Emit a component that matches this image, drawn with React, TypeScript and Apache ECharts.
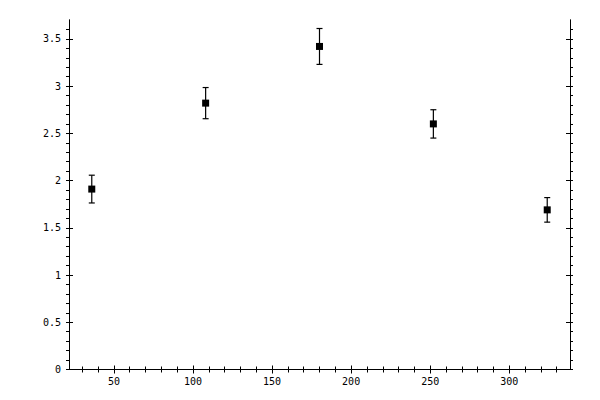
import { useEffect, useRef } from 'react';
import * as echarts from 'echarts';

// measured points
const xValues = [36, 108, 180, 252, 324];
const yValues = [1.91, 2.82, 3.42, 2.6, 1.69];
const yErrors = [0.147, 0.165, 0.19, 0.15, 0.13];

// axis ticks
const xMajor = [50, 100, 150, 200, 250, 300];
const xMinor = [30, 40, 60, 70, 80, 90, 110, 120, 130, 140, 160, 170, 180, 190, 210, 220, 230, 240, 260, 270, 280, 290, 310, 320, 330];
const yMajor = [0, 0.5, 1, 1.5, 2, 2.5, 3, 3.5];
const yMinor = [0.1, 0.2, 0.3, 0.4, 0.6, 0.7, 0.8, 0.9, 1.1, 1.2, 1.3, 1.4, 1.6, 1.7, 1.8, 1.9, 2.1, 2.2, 2.3, 2.4, 2.6, 2.7, 2.8, 2.9, 3.1, 3.2, 3.3, 3.4, 3.6];

const X_MIN = 21.6;
const X_MAX = 338.4;
const Y_MIN = 0;
const Y_MAX = 3.7;

const FONT = 'DejaVu Sans Mono';

const App = () => {
  const chartRef = useRef<HTMLDivElement>(null);

  useEffect(() => {
    if (!chartRef.current) return;
    const chart = echarts.init(chartRef.current, null, { renderer: 'svg' });

    const line = { show: true, lineStyle: { color: '#000', width: 1 } };
    const allX = [...xMajor, ...xMinor];
    const allY = [...yMajor, ...yMinor];

    // builds one axis layer: outside ticks (major + minor) or inside ticks (major only)
    const xAxis = (position: 'top' | 'bottom', inside: boolean, labels: boolean) => ({
      type: 'value',
      position,
      min: X_MIN,
      max: X_MAX,
      axisLine: line,
      splitLine: { show: false },
      axisTick: {
        show: true,
        inside,
        length: inside ? 4 : 3,
        customValues: inside ? xMajor : allX,
        lineStyle: { color: '#000', width: 1 }
      },
      axisLabel: labels
        ? { show: true, customValues: xMajor, color: '#000', fontFamily: FONT, fontSize: 10, margin: 7 }
        : { show: false }
    });

    const yAxis = (position: 'left' | 'right', inside: boolean, labels: boolean) => ({
      type: 'value',
      position,
      min: Y_MIN,
      max: Y_MAX,
      axisLine: line,
      splitLine: { show: false },
      axisTick: {
        show: true,
        inside,
        length: inside ? 4 : 3,
        customValues: inside ? yMajor : allY,
        lineStyle: { color: '#000', width: 1 }
      },
      axisLabel: labels
        ? { show: true, customValues: yMajor, color: '#000', fontFamily: FONT, fontSize: 10, margin: 8 }
        : { show: false }
    });

    const points = xValues.map((x, i) => [x, yValues[i]]);
    const bars = xValues.map((x, i) => [x, yValues[i] - yErrors[i], yValues[i] + yErrors[i]]);

    chart.setOption({
      animation: false,
      backgroundColor: '#fff',
      grid: { left: 69, right: 30, top: 20, bottom: 30.5 },
      xAxis: [
        xAxis('bottom', false, true),
        xAxis('bottom', true, false),
        xAxis('top', false, false),
        xAxis('top', true, false)
      ],
      yAxis: [
        yAxis('left', false, true),
        yAxis('left', true, false),
        yAxis('right', false, false),
        yAxis('right', true, false)
      ],
      series: [
        {
          type: 'custom',
          xAxisIndex: 0,
          yAxisIndex: 0,
          data: bars,
          renderItem: (params: any, api: any) => {
            const lo = api.coord([api.value(0), api.value(1)]);
            const hi = api.coord([api.value(0), api.value(2)]);
            const cap = 3;
            const style = { stroke: '#000', lineWidth: 1.2 };
            return {
              type: 'group',
              children: [
                { type: 'line', shape: { x1: lo[0], y1: lo[1], x2: hi[0], y2: hi[1] }, style },
                { type: 'line', shape: { x1: lo[0] - cap, y1: lo[1], x2: lo[0] + cap, y2: lo[1] }, style },
                { type: 'line', shape: { x1: hi[0] - cap, y1: hi[1], x2: hi[0] + cap, y2: hi[1] }, style }
              ]
            };
          }
        },
        {
          type: 'scatter',
          xAxisIndex: 0,
          yAxisIndex: 0,
          symbol: 'rect',
          symbolSize: 7,
          itemStyle: { color: '#000', opacity: 1 },
          data: points
        }
      ]
    });

    return () => {
      chart.dispose();
    };
  }, []);

  return (
    <div
      ref={chartRef}
      style={{ position: 'fixed', left: 0, top: 0, width: '600px', height: '400px' }}
    />
  );
};

export default App;
